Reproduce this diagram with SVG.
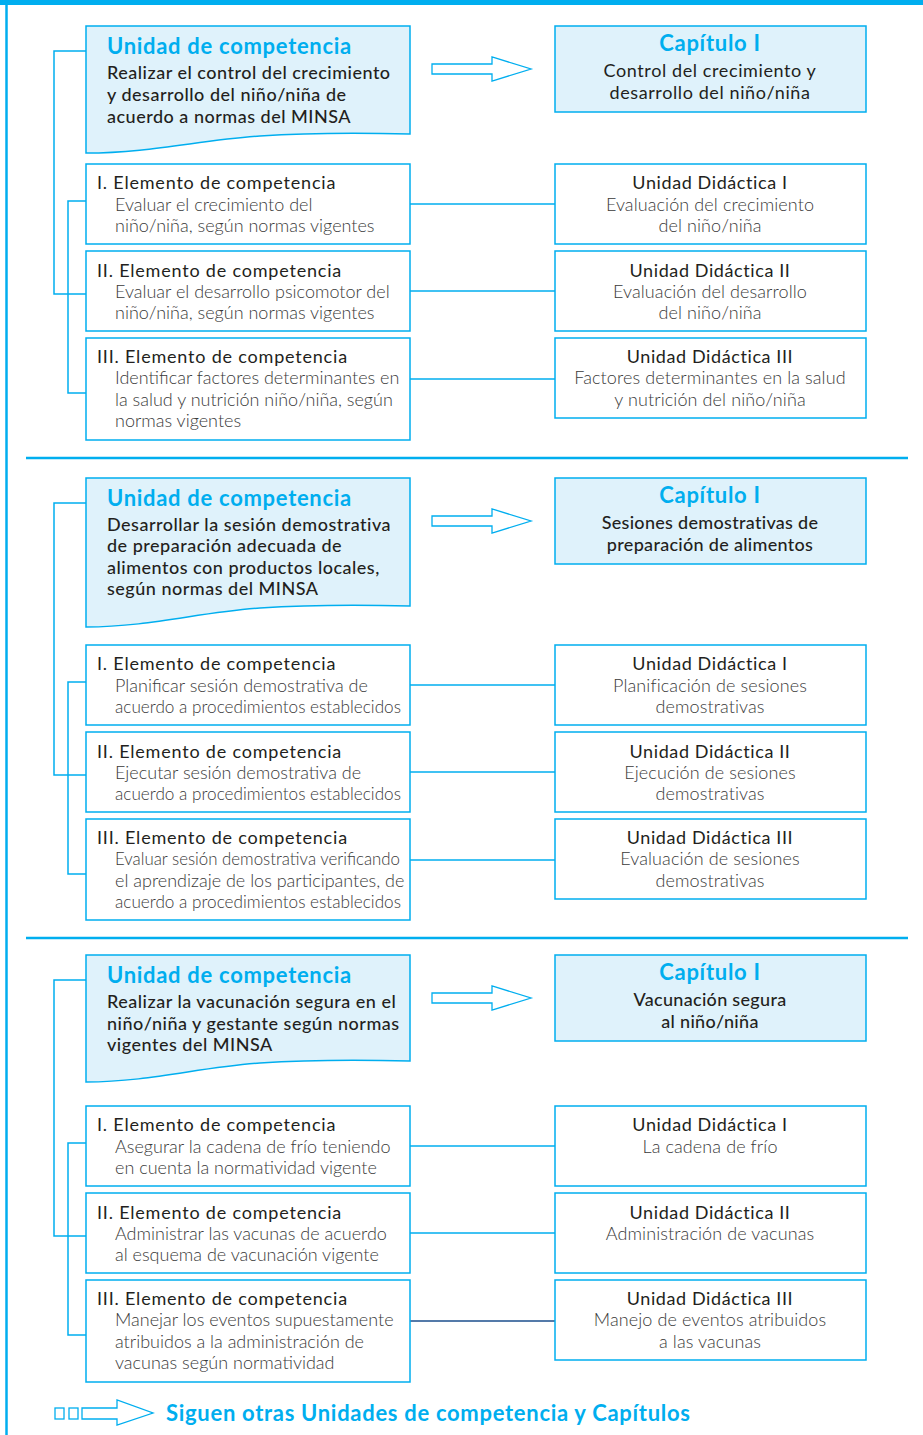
<svg xmlns="http://www.w3.org/2000/svg" width="923" height="1435" viewBox="0 0 923 1435">
<style>
.box{fill:#ffffff;stroke:#00aeef;stroke-width:1.5}
.lbox{fill:#dff2fb;stroke:#00aeef;stroke-width:1.5}
.arr{fill:#ffffff;stroke:#00aeef;stroke-width:1.3}
.ln{fill:none;stroke:#00aeef;stroke-width:1.5}
.sep{stroke:#00aeef;stroke-width:2.5}
text{font-family:Lato,"Open Sans","Liberation Sans",sans-serif}
.h{font-weight:700;font-size:22px;letter-spacing:0.7px;fill:#00aeef}
.hc{font-weight:700;font-size:22px;letter-spacing:0.7px;fill:#00aeef;text-anchor:middle}
.u{font-weight:500;font-size:18px;letter-spacing:0.5px;fill:#231f20}
.cb{font-weight:400;font-size:18px;letter-spacing:0.6px;fill:#231f20;text-anchor:middle}
.cb2{font-weight:500;font-size:18px;letter-spacing:0.3px;fill:#231f20;text-anchor:middle}
.et{font-weight:400;font-size:18px;letter-spacing:0.8px;fill:#231f20}
.eb{font-weight:300;font-size:18px;fill:#3a3a3a}
.dt{font-weight:400;font-size:18px;letter-spacing:0.6px;fill:#231f20;text-anchor:middle}
.db{font-weight:300;font-size:18px;letter-spacing:0.1px;fill:#3a3a3a;text-anchor:middle}
.foot{font-weight:700;font-size:22px;letter-spacing:0.7px;fill:#00aeef}
</style>
<defs>
<path id="arrow" d="M432,64 H492 V57 L531,69 L492,81 V74 H432 Z"/>
</defs>

<g id="frame">
<rect x="0" y="0" width="923" height="5" fill="#00aeef"/>
<line x1="6.5" y1="0" x2="6.5" y2="1435" class="sep"/>
<line x1="26" y1="458" x2="908" y2="458" class="sep"/>
<line x1="26" y1="938" x2="908" y2="938" class="sep"/>
</g>

<g id="connectors">
<polyline class="ln" points="86,51 54,51 54,294 86,294"/>
<polyline class="ln" points="86,201 68,201 68,393 86,393"/>
<line class="ln" x1="410" y1="204" x2="555" y2="204"/>
<line class="ln" x1="410" y1="291" x2="555" y2="291"/>
<line class="ln" x1="410" y1="379" x2="555" y2="379"/>
<polyline class="ln" points="86,503 54,503 54,775 86,775"/>
<polyline class="ln" points="86,682 68,682 68,874 86,874"/>
<line class="ln" x1="410" y1="685" x2="555" y2="685"/>
<line class="ln" x1="410" y1="772" x2="555" y2="772"/>
<line class="ln" x1="410" y1="860" x2="555" y2="860"/>
<polyline class="ln" points="86,980 54,980 54,1236 86,1236"/>
<polyline class="ln" points="86,1143 68,1143 68,1335 86,1335"/>
<line class="ln" x1="410" y1="1146" x2="555" y2="1146"/>
<line class="ln" x1="410" y1="1233" x2="555" y2="1233"/>
<line x1="410" y1="1321" x2="555" y2="1321" stroke="#1b4e8c" stroke-width="1.5"/>
</g>

<!-- ============ SECTION 1 ============ -->
<g id="uc1">
<path class="lbox" d="M86,26 H410 V134 C370,133 320,132 260,136 C200,140 150,153 86,153 Z"/>
<text class="h" x="107" y="54">Unidad de competencia</text>
<text class="u" x="107" y="79">Realizar el control del crecimiento</text>
<text class="u" x="107" y="101">y desarrollo del niño/niña de</text>
<text class="u" x="107" y="123">acuerdo a normas del MINSA</text>
</g>
<g id="arrow1"><use href="#arrow" class="arr"/></g>
<g id="cap1">
<rect class="lbox" x="555" y="26" width="311" height="86"/>
<text class="hc" x="710" y="51">Capítulo I</text>
<text class="cb" x="710" y="77">Control del crecimiento y</text>
<text class="cb" x="710" y="99">desarrollo del niño/niña</text>
</g>
<g id="ec1-1">
<rect class="box" x="86" y="164" width="324" height="80"/>
<text class="et" x="97" y="189">I. Elemento de competencia</text>
<text class="eb" x="115" y="211">Evaluar el crecimiento del</text>
<text class="eb" x="115" y="232">niño/niña, según normas vigentes</text>
</g>
<g id="ec1-2">
<rect class="box" x="86" y="251" width="324" height="80"/>
<text class="et" x="97" y="277">II. Elemento de competencia</text>
<text class="eb" x="115" y="298">Evaluar el desarrollo psicomotor del</text>
<text class="eb" x="115" y="319">niño/niña, según normas vigentes</text>
</g>
<g id="ec1-3">
<rect class="box" x="86" y="338" width="324" height="102"/>
<text class="et" x="97" y="363">III. Elemento de competencia</text>
<text class="eb" x="115" y="384">Identificar factores determinantes en</text>
<text class="eb" x="115" y="406">la salud y nutrición niño/niña, según</text>
<text class="eb" x="115" y="427">normas vigentes</text>
</g>
<g id="ud1-1">
<rect class="box" x="555" y="164" width="311" height="80"/>
<text class="dt" x="710" y="189">Unidad Didáctica I</text>
<text class="db" x="710" y="211">Evaluación del crecimiento</text>
<text class="db" x="710" y="232">del niño/niña</text>
</g>
<g id="ud1-2">
<rect class="box" x="555" y="251" width="311" height="80"/>
<text class="dt" x="710" y="277">Unidad Didáctica II</text>
<text class="db" x="710" y="298">Evaluación del desarrollo</text>
<text class="db" x="710" y="319">del niño/niña</text>
</g>
<g id="ud1-3">
<rect class="box" x="555" y="338" width="311" height="80"/>
<text class="dt" x="710" y="363">Unidad Didáctica III</text>
<text class="db" x="710" y="384">Factores determinantes en la salud</text>
<text class="db" x="710" y="406">y nutrición del niño/niña</text>
</g>

<!-- ============ SECTION 2 ============ -->
<g id="uc2">
<path class="lbox" d="M86,478 H410 V606 C370,605 320,604 260,608 C200,612 150,627 86,627 Z"/>
<text class="h" x="107" y="506">Unidad de competencia</text>
<text class="u" x="107" y="531">Desarrollar la sesión demostrativa</text>
<text class="u" x="107" y="552">de preparación adecuada de</text>
<text class="u" x="107" y="574">alimentos con productos locales,</text>
<text class="u" x="107" y="595">según normas del MINSA</text>
</g>
<g id="arrow2"><use href="#arrow" class="arr" y="452"/></g>
<g id="cap2">
<rect class="lbox" x="555" y="478" width="311" height="86"/>
<text class="hc" x="710" y="503">Capítulo I</text>
<text class="cb2" x="710" y="529">Sesiones demostrativas de</text>
<text class="cb2" x="710" y="551">preparación de alimentos</text>
</g>
<g id="ec2-1">
<rect class="box" x="86" y="645" width="324" height="80"/>
<text class="et" x="97" y="670">I. Elemento de competencia</text>
<text class="eb" x="115" y="692">Planificar sesión demostrativa de</text>
<text class="eb" x="115" y="713" textLength="286" lengthAdjust="spacingAndGlyphs">acuerdo a procedimientos establecidos</text>
</g>
<g id="ec2-2">
<rect class="box" x="86" y="732" width="324" height="80"/>
<text class="et" x="97" y="758">II. Elemento de competencia</text>
<text class="eb" x="115" y="779">Ejecutar sesión demostrativa de</text>
<text class="eb" x="115" y="800" textLength="286" lengthAdjust="spacingAndGlyphs">acuerdo a procedimientos establecidos</text>
</g>
<g id="ec2-3">
<rect class="box" x="86" y="819" width="324" height="101"/>
<text class="et" x="97" y="844">III. Elemento de competencia</text>
<text class="eb" x="115" y="865" textLength="285" lengthAdjust="spacingAndGlyphs">Evaluar sesión demostrativa verificando</text>
<text class="eb" x="115" y="887">el aprendizaje de los participantes, de</text>
<text class="eb" x="115" y="908" textLength="286" lengthAdjust="spacingAndGlyphs">acuerdo a procedimientos establecidos</text>
</g>
<g id="ud2-1">
<rect class="box" x="555" y="645" width="311" height="80"/>
<text class="dt" x="710" y="670">Unidad Didáctica I</text>
<text class="db" x="710" y="692">Planificación de sesiones</text>
<text class="db" x="710" y="713">demostrativas</text>
</g>
<g id="ud2-2">
<rect class="box" x="555" y="732" width="311" height="80"/>
<text class="dt" x="710" y="758">Unidad Didáctica II</text>
<text class="db" x="710" y="779">Ejecución de sesiones</text>
<text class="db" x="710" y="800">demostrativas</text>
</g>
<g id="ud2-3">
<rect class="box" x="555" y="819" width="311" height="80"/>
<text class="dt" x="710" y="844">Unidad Didáctica III</text>
<text class="db" x="710" y="865">Evaluación de sesiones</text>
<text class="db" x="710" y="887">demostrativas</text>
</g>

<!-- ============ SECTION 3 ============ -->
<g id="uc3">
<path class="lbox" d="M86,955 H410 V1061 C370,1060 320,1059 260,1063 C200,1067 150,1082 86,1082 Z"/>
<text class="h" x="107" y="983">Unidad de competencia</text>
<text class="u" x="107" y="1008">Realizar la vacunación segura en el</text>
<text class="u" x="107" y="1030">niño/niña y gestante según normas</text>
<text class="u" x="107" y="1051">vigentes del MINSA</text>
</g>
<g id="arrow3"><use href="#arrow" class="arr" y="929"/></g>
<g id="cap3">
<rect class="lbox" x="555" y="955" width="311" height="86"/>
<text class="hc" x="710" y="980">Capítulo I</text>
<text class="cb2" x="710" y="1006">Vacunación segura</text>
<text class="cb2" x="710" y="1028">al niño/niña</text>
</g>
<g id="ec3-1">
<rect class="box" x="86" y="1106" width="324" height="80"/>
<text class="et" x="97" y="1131">I. Elemento de competencia</text>
<text class="eb" x="115" y="1153">Asegurar la cadena de frío teniendo</text>
<text class="eb" x="115" y="1174">en cuenta la normatividad vigente</text>
</g>
<g id="ec3-2">
<rect class="box" x="86" y="1193" width="324" height="80"/>
<text class="et" x="97" y="1219">II. Elemento de competencia</text>
<text class="eb" x="115" y="1240">Administrar las vacunas de acuerdo</text>
<text class="eb" x="115" y="1261">al esquema de vacunación vigente</text>
</g>
<g id="ec3-3">
<rect class="box" x="86" y="1280" width="324" height="102"/>
<text class="et" x="97" y="1305">III. Elemento de competencia</text>
<text class="eb" x="115" y="1326">Manejar los eventos supuestamente</text>
<text class="eb" x="115" y="1348">atribuidos a la administración de</text>
<text class="eb" x="115" y="1369">vacunas según normatividad</text>
</g>
<g id="ud3-1">
<rect class="box" x="555" y="1106" width="311" height="80"/>
<text class="dt" x="710" y="1131">Unidad Didáctica I</text>
<text class="db" x="710" y="1153">La cadena de frío</text>
</g>
<g id="ud3-2">
<rect class="box" x="555" y="1193" width="311" height="80"/>
<text class="dt" x="710" y="1219">Unidad Didáctica II</text>
<text class="db" x="710" y="1240">Administración de vacunas</text>
</g>
<g id="ud3-3">
<rect class="box" x="555" y="1280" width="311" height="80"/>
<text class="dt" x="710" y="1305">Unidad Didáctica III</text>
<text class="db" x="710" y="1326">Manejo de eventos atribuidos</text>
<text class="db" x="710" y="1348">a las vacunas</text>
</g>

<g id="footer">
<rect class="arr" x="55" y="1408" width="9" height="11"/>
<rect class="arr" x="69" y="1408" width="9" height="11"/>
<path class="arr" d="M82,1408 H117 V1400 L153,1413 L117,1425 V1419 H82 Z"/>
<text class="foot" x="166" y="1421">Siguen otras Unidades de competencia y Capítulos</text>
</g>
</svg>
